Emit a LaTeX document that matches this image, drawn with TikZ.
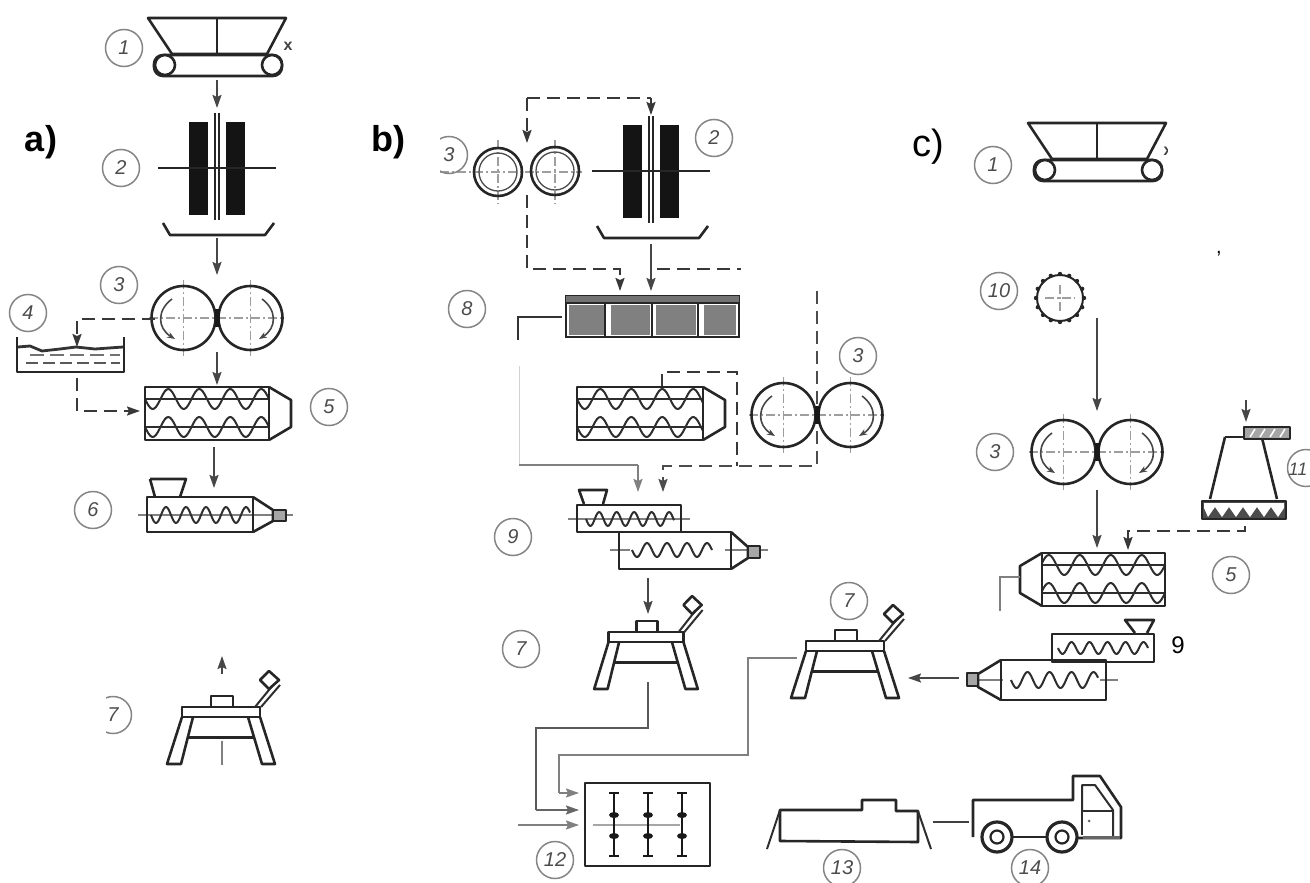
\documentclass[tikz,border=0pt]{standalone}
\usepackage{fontspec}
\setmainfont{Liberation Sans}
\usetikzlibrary{arrows.meta}
\tikzset{
  x=1pt,y=-1pt,
  mach/.style={line width=2.6pt,draw=black!85,line join=round},
  thin mach/.style={line width=2pt,draw=black!82,line join=round},
  flow/.style={line width=1.8pt,draw=black!72,-{Stealth[length=13pt,width=9pt,inset=2pt]}},
  faint/.style={line width=1.8pt,draw=black!50},
  faintflow/.style={faint,-{Stealth[length=13pt,width=9pt,inset=2pt]}},
  dashline/.style={line width=2pt,draw=black!78,dash pattern=on 13pt off 7pt},
  dashflow/.style={dashline,-{Stealth[length=13pt,width=9pt,inset=2pt]}},
  axis/.style={line width=1.3pt,draw=black!38,dash pattern=on 9pt off 3pt on 2pt off 3pt},
  lab/.style={circle,draw=black!48,line width=1.5pt,text=black!70,minimum size=37pt,inner sep=0pt,font=\fontsize{20}{20}\selectfont\itshape},
  labtext/.style={inner sep=0pt,text=black!70,font=\fontsize{20}{20}\selectfont\itshape},
  title/.style={inner sep=0pt,font=\fontsize{36}{36}\selectfont\bfseries},
}
\newcommand{\waveM}[5]{\draw[thin mach] plot[domain=#1:#2,samples=70,smooth] (\x,{#3+#4*sin((360/#5)*(\x-#1))});}
\newcommand{\hopperM}[3]{%
 \begin{scope}[shift={(#1,#2)}]
  \draw[mach] (-69,0) -- (69,0) -- (50,36) -- (-45,36) -- cycle;
  \draw[mach] (0,0) -- (0,36);
  \draw[mach,rounded corners=9pt] (-63,37) rectangle (65,58);
  \draw[mach,fill=white] (-52,47) circle[radius=10];
  \draw[mach,fill=white] (55,47) circle[radius=10];
  \node[inner sep=0pt,text=black!75,font=\fontsize{16}{16}\selectfont\bfseries] (#3) at (71,28) {x};
 \end{scope}}
\newcommand{\crusherM}[2]{%
 \begin{scope}[shift={(#1,#2)}]
  \fill[black!92] (-28,-46) rectangle (-9,47);
  \fill[black!92] (9,-46) rectangle (28,47);
  \draw[mach] (-59,0) -- (59,0);
  \draw[line width=1.7pt,draw=black!85] (-2,-55) -- (-2,52);
  \draw[line width=1.7pt,draw=black!85] (2,-55) -- (2,52);
  \draw[mach] (-54,55) -- (-47,67) -- (48,67) -- (57,55);
 \end{scope}}
\newcommand{\rollersM}[2]{%
 \begin{scope}[shift={(#1,#2)}]
  \draw[axis] (-33.5,-38) -- (-33.5,38);
  \draw[axis] (33.5,-38) -- (33.5,38);
  \draw[axis] (-68,0) -- (68,0);
  \draw[mach] (-33.5,0) circle[radius=32];
  \draw[mach] (33.5,0) circle[radius=32];
  \fill[black!90] (-2.5,-9) rectangle (2.5,9);
  \draw[line width=1.6pt,draw=black!72,-{Stealth[length=8pt,width=6pt]}] (-45,-19) .. controls (-60,-8) and (-60,10) .. (-42,21);
  \draw[line width=1.6pt,draw=black!72,-{Stealth[length=8pt,width=6pt]}] (45,-19) .. controls (60,-8) and (60,10) .. (42,21);
 \end{scope}}
\newcommand{\mixerM}[4]{% x y xscale width
 \begin{scope}[shift={(#1,#2)},xscale=#3]
  \waveM{0}{#4}{12}{10}{31}
  \waveM{0}{#4}{40}{10}{31}
  \draw[thin mach] (0,12) -- (#4,12);
  \draw[thin mach] (0,40) -- (#4,40);
  \draw[mach] (0,0) rectangle (#4,53);
  \draw[mach] (#4,0) -- ({#4+22},13) -- ({#4+22},40) -- (#4,53);
 \end{scope}}
\newcommand{\tableM}[3]{%
 \begin{scope}[shift={(#1,#2)},xscale=#3]
  \draw[mach] (-39,0) rectangle (39,10);
  \draw[mach] (-10,0) -- (-10,-11) -- (12,-11) -- (12,0);
  \draw[thin mach] (34,0) -- (52,-22);
  \draw[thin mach] (40,0) -- (59,-22);
  \draw[mach,fill=white] (48,-36) -- (58,-27) -- (48,-18) -- (39,-27) -- cycle;
  \draw[mach] (-39,10) -- (-54,57) -- (-40,57) -- (-28,10);
  \draw[mach] (27,10) -- (41,57) -- (54,57) -- (39,10);
  \draw[line width=3pt,draw=black!85] (-33,30) -- (32,30);
 \end{scope}}
\begin{document}
\begin{tikzpicture}
\useasboundingbox (0,0) rectangle (1310,883);
% connector ends
\coordinate (a1o) at (217,80); \coordinate (a2i) at (217,108);
\coordinate (a2o) at (217,238); \coordinate (a3i) at (217,275);
\coordinate (a3o) at (217,352); \coordinate (a5i) at (217,385);
\coordinate (a3l) at (155,319); \coordinate (a4k) at (77,319); \coordinate (a4i) at (77,347);
\coordinate (a4o) at (77,378); \coordinate (a4j) at (77,411); \coordinate (a5l) at (140,411);
\coordinate (a5o) at (214,447); \coordinate (a6i) at (214,488);
\coordinate (a7t) at (222,674); \coordinate (a7h) at (222,656);
\coordinate (a7s) at (222,741); \coordinate (a7e) at (222,765);
%
\coordinate (bt1) at (527,98); \coordinate (bt2) at (651,98);
\coordinate (bt3) at (527,143); \coordinate (bt4) at (651,115);
\coordinate (bd1) at (527,195); \coordinate (bd2) at (527,269); \coordinate (bd3) at (620,269); \coordinate (b8i) at (620,291);
\coordinate (b2o) at (651,244); \coordinate (b8j) at (651,291);
\coordinate (br1) at (657,269); \coordinate (br2) at (741,269);
\coordinate (b8l) at (562,317); \coordinate (bl1) at (518,317); \coordinate (bl2) at (518,340);
\coordinate (bl3) at (519,366); \coordinate (bl4) at (519,465); \coordinate (bl5) at (638,465); \coordinate (b9i) at (638,492);
\coordinate (bx1) at (817,291); \coordinate (bx2) at (817,466); \coordinate (bx3) at (663,466); \coordinate (b9j) at (663,492);
\coordinate (bm1) at (662,387); \coordinate (bm2) at (662,372); \coordinate (bm3) at (737,372); \coordinate (bm4) at (737,466);
\coordinate (b9o) at (648,578); \coordinate (b7i) at (648,614);
\coordinate (b7o) at (648,682); \coordinate (b7a) at (648,728); \coordinate (b7b) at (536,728); \coordinate (b7c) at (536,810); \coordinate (b12a) at (579,810);
\coordinate (c7o) at (797,658); \coordinate (c7a) at (748,658); \coordinate (c7b) at (748,755); \coordinate (c7c) at (559,755); \coordinate (c7d) at (559,793); \coordinate (b12b) at (579,793);
\coordinate (b12s) at (518,825); \coordinate (b12c) at (579,825);
%
\coordinate (c10o) at (1097,318); \coordinate (c3i) at (1097,411);
\coordinate (c3o) at (1097,490); \coordinate (c5i) at (1097,548);
\coordinate (c11o) at (1245,526); \coordinate (c11a) at (1245,531); \coordinate (c11b) at (1128,531); \coordinate (c5j) at (1128,550);
\coordinate (c11s) at (1246,400); \coordinate (c11i) at (1246,422);
\coordinate (c5o) at (1020,577); \coordinate (c5a) at (1000,577); \coordinate (c5b) at (1000,611);
\coordinate (c9o) at (959,678); \coordinate (c7i) at (908,678);
\coordinate (t13) at (933,822); \coordinate (t14) at (969,822);

% --- panel a
\node[title] (ta) at (41,142) {a)};
\hopperM{217}{18}{xa}
\node[lab] (la1) at (124,48) {1};
\draw[flow] (a1o) -- (a2i);
\crusherM{217}{168}
\node[lab] (la2) at (121,168) {2};
\draw[flow] (a2o) -- (a3i);
\rollersM{217}{318}
\node[lab] (la3) at (119,285) {3};
\node[lab] (la4) at (28,313) {4};
\draw[dashflow] (a3l) -- (a4k) -- (a4i);
\draw[mach] (17,337) -- (17,372) -- (124,372) -- (124,337);
\draw[line width=2.8pt,draw=black!80] (18,347) -- (30,346) -- (42,351) -- (60,349) -- (76,347) -- (95,349) -- (123,347);
\draw[line width=1.6pt,draw=black!65,dash pattern=on 12pt off 5pt] (26,363) -- (120,363);
\draw[line width=1.3pt,draw=black!55,dash pattern=on 14pt off 6pt] (30,355) -- (120,355);
\draw[dashflow] (a4o) -- (a4j) -- (a5l);
\draw[flow] (a3o) -- (a5i);
\mixerM{145}{387}{1}{124}
\node[lab] (la5) at (329,407) {5};
\draw[flow] (a5o) -- (a6i);
% extruder 6
\draw[faint] (138,515) -- (293,515);
\waveM{151}{250}{515}{8}{20}
\draw[mach] (147,497) rectangle (253,532);
\draw[mach] (253,497) -- (273,510) -- (273,521) -- (253,532);
\draw[mach,fill=black!35] (273,510) rectangle (286,521);
\draw[mach] (150,479) -- (186,479) -- (180,497);
\draw[mach] (150,479) -- (155,497);
\node[lab] (la6) at (93,510) {6};
% table 7
\draw[flow] (a7t) -- (a7h);
\begin{scope}
 \clip (106,640) rectangle (300,765);
 \tableM{221}{707}{1}
 \node[lab] (la7) at (113,715) {7};
\end{scope}
\draw[faint] (a7s) -- (a7e);

% --- panel b
\node[title] (tb) at (388,142) {b)};
\draw[dashline] (bt1) -- (bt2);
\draw[dashflow] (bt1) -- (bt3);
\draw[dashflow] (bt2) -- (bt4);
\draw[axis] (440,172) -- (582,172);
\draw[axis] (498,140) -- (498,204);
\draw[axis] (555,140) -- (555,204);
\draw[mach] (498,172) circle[radius=24];
\draw[mach] (555,171) circle[radius=24];
\draw[line width=1.3pt,draw=black!70] (498,172) circle[radius=19];
\draw[line width=1.3pt,draw=black!70] (555,171) circle[radius=19];
\begin{scope}
 \clip (440,120) rectangle (472,190);
 \node[lab] (lb3a) at (449,155) {3};
\end{scope}
\crusherM{651}{171}
\node[lab] (lb2) at (714,138) {2};
\draw[dashflow] (bd1) -- (bd2) -- (bd3) -- (b8i);
\draw[flow] (b2o) -- (b8j);
\draw[dashline] (br1) -- (br2);
% mill 8
\draw[line width=2.8pt,draw=black!85] (566,296) rectangle (739,337);
\fill[black!55] (566,296) rectangle (739,302);
\draw[line width=1.8pt,draw=black!85] (566,303) -- (739,303);
\fill[black!50] (569,305) rectangle (604,335);
\fill[black!50] (611,305) rectangle (650,335);
\fill[black!50] (656,305) rectangle (696,335);
\fill[black!50] (704,305) rectangle (736,335);
\draw[line width=2pt,draw=black!85] (605,303) -- (605,337) (652,303) -- (652,337) (698,303) -- (698,337);
\node[lab] (lb8) at (467,309) {8};
\draw[faint,draw=black!80] (b8l) -- (bl1) -- (bl2);
\draw[faint,draw=black!18,line width=1pt] (bl3) -- (bl4);
\draw[faint] (bl4) -- (bl5);
\draw[faintflow] (bl5) -- (b9i);
\draw[dashflow,draw=black!70] (bx1) -- (bx2) -- (bx3) -- (b9j);
\draw[dashline] (bm1) -- (bm2) -- (bm3) -- (bm4);
\mixerM{577}{387}{1}{126}
\rollersM{817}{415}
\node[lab] (lb3) at (858,356) {3};
% extruder 9 b
\draw[faint] (568,519) -- (690,519);
\waveM{586}{674}{519}{7}{17.5}
\draw[mach] (577,505) rectangle (681,532);
\draw[faint] (610,550) -- (768,550);
\draw[fill=white,draw=none] (630,535) rectangle (725,566);
\waveM{632}{712}{550}{7}{20}
\draw[mach] (619,532) rectangle (731,569);
\draw[mach] (731,532) -- (748,547) -- (748,558) -- (731,569);
\draw[mach,fill=black!35] (748,546) rectangle (760,558);
\draw[mach] (584,504) -- (579,490) -- (607,490) -- (603,504);
\node[lab] (lb9) at (513,537) {9};
\draw[flow] (b9o) -- (b7i);
\tableM{646}{632}{0.96}
\node[lab] (lb7) at (521,649) {7};
\draw[faint,draw=black!65] (b7o) -- (b7a) -- (b7b) -- (b7c);
\draw[faintflow,draw=black!60] (b7c) -- (b12a);
\draw[faint] (c7o) -- (c7a) -- (c7b) -- (c7c) -- (c7d);
\draw[faintflow] (c7d) -- (b12b);
\draw[faintflow] (b12s) -- (b12c);
% press 12
\draw[mach] (585,783) rectangle (710,866);
\draw[faint,draw=black!35] (593,825) -- (680,825);
\foreach \sx in {614,648,682}{
 \draw[line width=2.4pt,draw=black!90] (\sx,793) -- (\sx,856);
 \draw[line width=2.4pt,draw=black!90] (\sx-5,793) -- (\sx+5,793);
 \draw[line width=2.4pt,draw=black!90] (\sx-5,856) -- (\sx+5,856);
 \fill[black!90] (\sx,815) ellipse[x radius=5,y radius=3];
 \fill[black!90] (\sx,836) ellipse[x radius=5,y radius=3];
}
\node[lab] (lb12) at (555,860) {12};
% trough 13, truck 14
\draw[mach] (780,810) -- (862,810) -- (862,800) -- (896,800) -- (896,811) -- (918,811) -- (918,842) -- (780,841) -- cycle;
\draw[thin mach] (780,810) -- (767,849);
\draw[thin mach] (918,811) -- (931,849);
\node[lab] (lb13) at (842,868) {13};
\draw[faint,draw=black!75] (t13) -- (t14);
\draw[mach] (973,837) -- (973,800) -- (1073,800) -- (1073,776) -- (1100,776) -- (1121,807) -- (1121,838) -- (1078,838);
\draw[mach] (1010,837) -- (1050,837);
\draw[thin mach] (1082,811) -- (1082,785) -- (1095,785) -- (1113,810) -- (1113,838);
\draw[thin mach] (1082,811) -- (1113,811) (1082,811) -- (1082,835);
\draw[line width=3pt,draw=black!60] (1083,837) -- (1120,837);
\fill[black!60] (1089,821) circle[radius=1.5];
\foreach \wx in {997,1062}{
 \draw[line width=3.2pt,draw=black!85,fill=white] (\wx,837) circle[radius=15];
 \draw[line width=2.2pt,draw=black!85] (\wx,837) circle[radius=6.5];
}
\node[lab] (lb14) at (1030,868) {14};

% --- panel c
\node[inner sep=0pt,font=\fontsize{38}{38}\selectfont] (tc) at (928,147) {c)};
\begin{scope}
 \clip (1000,100) rectangle (1167,200);
 \hopperM{1097}{123}{xc}
\end{scope}
\node[lab] (lc1) at (993,165) {1};
\node[inner sep=0pt,font=\fontsize{20}{20}\selectfont] (comma) at (1219,254) {,};
\node[lab] (lc10) at (999,291) {10};
\draw[axis] (1045,298) -- (1075,298);
\draw[axis] (1060,285) -- (1060,311);
\draw[line width=2pt,draw=black!85] (1060,298) circle[radius=23];
\foreach \da in {0,22.5,...,337.5}{
 \fill[black!85] ({1060+24*cos(\da)},{298+24*sin(\da)}) circle[radius=2.2];
}
\draw[flow] (c10o) -- (c3i);
\rollersM{1097}{452}
\node[lab] (lc3) at (995,452) {3};
\draw[flow] (c3o) -- (c5i);
% machine 11
\draw[flow] (c11s) -- (c11i);
\draw[mach] (1225,437) -- (1244,437);
\draw[mach] (1225,437) -- (1210,499);
\draw[mach] (1262,438) -- (1277,499);
\draw[mach,fill=black!35] (1244,427) rectangle (1290,439);
\foreach \hx in {1250,1260,1270,1280}{
 \draw[line width=1.6pt,draw=white] (\hx,437) -- (\hx+5,429);
}
\draw[mach,fill=black!70] (1202,501) rectangle (1286,519);
\fill[white] (1204,503) -- (1284,503) -- (1284,508) -- (1278,517) -- (1271,507) -- (1264,517) -- (1257,507) -- (1250,517) -- (1243,507) -- (1236,517) -- (1229,507) -- (1222,517) -- (1215,507) -- (1208,517) -- (1204,508) -- cycle;
\coordinate (c11c) at (1306,468);
\draw[draw=black!48,line width=1.5pt] (c11c) circle[radius=18.5];
\node[labtext,font=\fontsize{18}{18}\selectfont\itshape] (lc11) at (1298,469) {11};
\draw[dashflow] (c11o) -- (c11a) -- (c11b) -- (c5j);
\mixerM{1165}{553}{-1}{123}
\draw[faint] (c5o) -- (c5a) -- (c5b);
\node[lab] (lc5) at (1231,575) {5};
% extruder 9 c
\draw[mach] (1052,634) rectangle (1154,662);
\waveM{1058}{1148}{648}{6}{18}
\draw[faint] (978,680) -- (1118,680);
\draw[fill=white,draw=none] (1003,664) rectangle (1100,698);
\waveM{1011}{1098}{680}{8}{22}
\draw[mach] (1001,660) rectangle (1106,700);
\draw[mach] (1001,660) -- (978,674) -- (978,687) -- (1001,700);
\draw[mach,fill=black!35] (967,673) rectangle (978,686);
\draw[mach] (1135,633) -- (1125,620) -- (1154,620) -- (1147,633);
\node[inner sep=0pt,font=\fontsize{24}{24}\selectfont] (n9) at (1178,645) {9};
\draw[flow] (c9o) -- (c7i);
\tableM{845}{641}{1}
\node[lab] (lc7) at (849,601) {7};
\end{tikzpicture}
\end{document}
